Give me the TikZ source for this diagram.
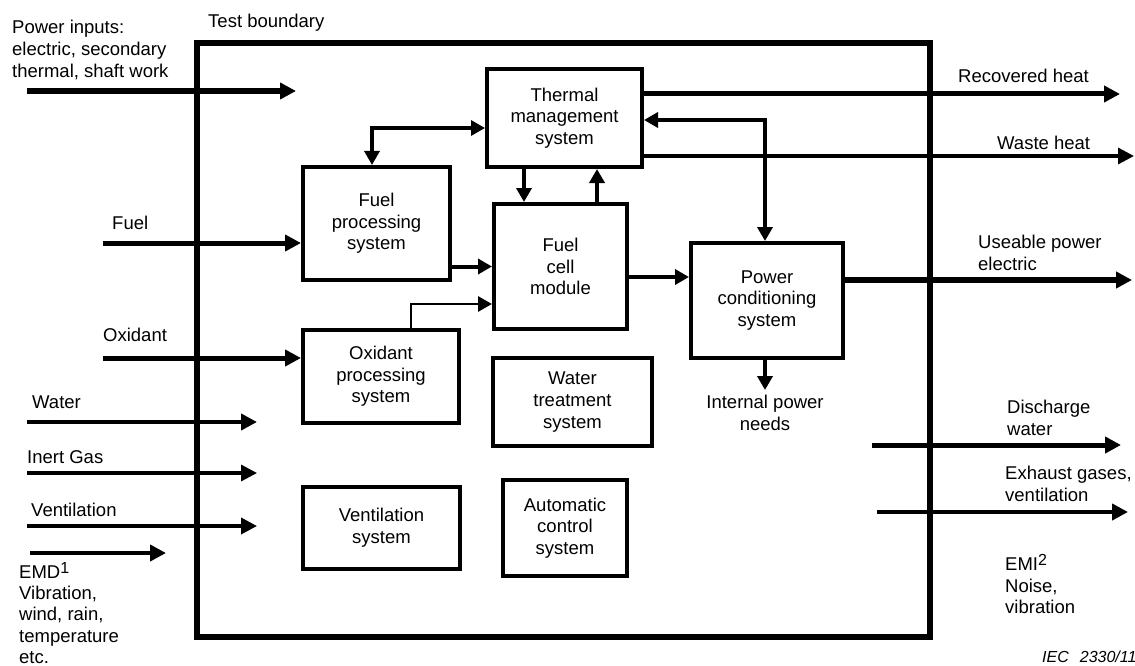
\documentclass[tikz,border=0pt]{standalone}
\usepackage{fontspec}
\setmainfont{Liberation Sans}
\usetikzlibrary{arrows.meta}
\newcommand\lblfont{\fontsize{18.5}{21.6}\selectfont}
\newcommand\supnum[1]{\raisebox{5pt}{\fontsize{16}{16}\selectfont #1}}
\tikzset{
  box/.style={draw, line width=4pt, align=center, inner sep=0pt, font=\lblfont},
  lbl/.style={inner sep=0pt, font=\lblfont, align=left, anchor=west},
  clbl/.style={inner sep=0pt, font=\lblfont, align=center},
  arr/.style={line width=#1, -{Triangle[length=16pt,width=16pt]}},
  iarr/.style={line width=#1, -{Triangle[length=14pt,width=15pt]}},
  dbl/.style={line width=#1, {Triangle[length=14pt,width=15pt]}-{Triangle[length=14pt,width=15pt]}},
}
\begin{document}
\begin{tikzpicture}[x=1pt,y=-1pt]
\useasboundingbox (0,0) rectangle (1135,666);

% test boundary
\node[draw, line width=6pt, minimum width=733pt, minimum height=594pt, inner sep=0pt] (tb) at (563.5,340) {};
\node[lbl] (tbl) at (208,23) {Test boundary};

% system boxes
\node[box, minimum width=155pt, minimum height=98pt] (therm) at (564.5,118) {Thermal\\management\\system};
\node[box, minimum width=147pt, minimum height=113pt] (fproc) at (376.5,223.5) {Fuel\\processing\\system};
\node[box, minimum width=133pt, minimum height=125pt] (fcell) at (560.5,266.5) {Fuel\\cell\\module};
\node[box, minimum width=152pt, minimum height=115pt] (pcond) at (767,300.5) {Power\\conditioning\\system};
\node[box, minimum width=156pt, minimum height=93pt] (oproc) at (381,376.5) {Oxidant\\processing\\system};
\node[box, minimum width=159pt, minimum height=88pt] (water) at (572.5,402) {Water\\treatment\\system};
\node[box, minimum width=157pt, minimum height=82pt] (vent) at (381.5,528) {Ventilation\\system};
\node[box, minimum width=124pt, minimum height=96pt] (auto) at (565,528) {Automatic\\control\\system};

% left labels
\node[lbl] (lpow) at (12,50) {Power inputs:\\electric, secondary\\thermal, shaft work};
\node[lbl] (lfuel) at (112,223) {Fuel};
\node[lbl] (loxi) at (103,335) {Oxidant};
\node[lbl] (lwat) at (32,402) {Water};
\node[lbl] (lgas) at (27,457) {Inert Gas};
\node[lbl] (lven) at (31,510) {Ventilation};
\node[lbl, font=\fontsize{18.5}{21.2}\selectfont] (lemd) at (19,613) {EMD\supnum{1}\\Vibration,\\wind, rain,\\temperature\\etc.};

% right labels
\node[lbl] (lrec) at (958,76) {Recovered heat};
\node[lbl] (lwas) at (997,143) {Waste heat};
\node[lbl] (luse) at (978,253) {Useable power\\electric};
\node[clbl] (lint) at (765,413) {Internal power\\needs};
\node[lbl] (ldis) at (1007,418) {Discharge\\water};
\node[lbl] (lexh) at (1005,484) {Exhaust gases,\\ventilation};
\node[lbl] (lemi) at (1005,584) {EMI\supnum{2}\\Noise,\\vibration};
\node[inner sep=0pt, anchor=west, font=\fontsize{16}{19}\selectfont\itshape] (iec) at (1042,657) {IEC\hspace{11pt}2330/11};

% free ends
\coordinate (pin) at (27,91);   \coordinate (pout) at (296,91);
\coordinate (fin) at (103,243);
\coordinate (oin) at (103,358);
\coordinate (win) at (27,422);  \coordinate (wout) at (257,422);
\coordinate (gin) at (27,473);  \coordinate (gout) at (257,473);
\coordinate (vin) at (27,526);  \coordinate (vout) at (257,526);
\coordinate (ein) at (30,553);  \coordinate (eout) at (166,553);
\coordinate (tf) at (372,128);
\coordinate (c1) at (524,180);
\coordinate (c2) at (597,180);
\coordinate (c3) at (411,304);
\coordinate (c4) at (660,277);
\coordinate (c5) at (765,120);
\coordinate (rh) at (1120,94);
\coordinate (wh) at (1134,156);
\coordinate (up) at (1132,280);
\coordinate (ip) at (765,390);
\coordinate (din) at (872,445); \coordinate (dout) at (1121,445);
\coordinate (xin) at (877,512); \coordinate (xout) at (1128,512);

% inputs
\draw[arr=5.5pt] (pin) -- (pout);
\draw[arr=5pt] (fin) -- (fin -| fproc.west);
\draw[arr=5pt] (oin) -- (oin -| oproc.west);
\draw[arr=4.7pt] (win) -- (wout);
\draw[arr=3.3pt] (gin) -- (gout);
\draw[arr=3.6pt] (vin) -- (vout);
\draw[arr=4pt] (ein) -- (eout);

% internal
\draw[dbl=3.3pt] (tf -| therm.west) -- (tf) -- (tf |- fproc.north);
\draw[iarr=4.5pt] (c1 |- therm.south) -- (c1 |- fcell.north);
\draw[iarr=4.5pt] (c2 |- fcell.north) -- (c2 |- therm.south);
\draw[iarr=4pt] (fcell.west -| fproc.east) -- (fcell.west);
\draw[iarr=2.8pt] (c3 |- oproc.north) -- (c3) -- (c3 -| fcell.west);
\draw[iarr=4pt] (c4 -| fcell.east) -- (c4 -| pcond.west);
\draw[dbl=3.5pt] (c5 -| therm.east) -- (c5) -- (c5 |- pcond.north);
\draw[iarr=3.5pt] (ip |- pcond.south) -- (ip);

% outputs
\draw[arr=5pt] (rh -| therm.east) -- (rh);
\draw[arr=3.3pt] (wh -| therm.east) -- (wh);
\draw[arr=5.5pt] (up -| pcond.east) -- (up);
\draw[arr=5pt] (din) -- (dout);
\draw[arr=4.7pt] (xin) -- (xout);
\end{tikzpicture}
\end{document}
